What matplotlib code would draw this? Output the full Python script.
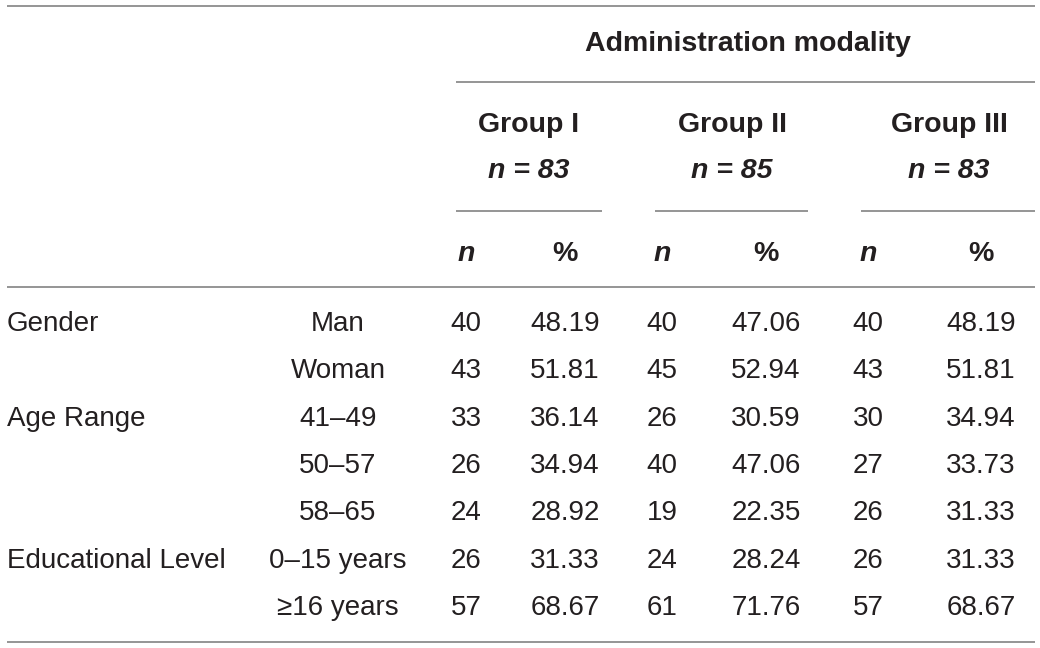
import matplotlib
matplotlib.use("Agg")
import matplotlib.pyplot as plt

categories = ["Gender", "", "Age Range", "", "", "Educational Level", ""]
subcategories = ["Man", "Woman", "41–49", "50–57", "58–65", "0–15 years", "≥16 years"]
group_names = ["Group I", "Group II", "Group III"]
group_sizes = [83, 85, 83]
g1_n = [40, 43, 33, 26, 24, 26, 57]
g1_pct = ["48.19", "51.81", "36.14", "34.94", "28.92", "31.33", "68.67"]
g2_n = [40, 45, 26, 40, 19, 24, 61]
g2_pct = ["47.06", "52.94", "30.59", "47.06", "22.35", "28.24", "71.76"]
g3_n = [40, 43, 30, 27, 26, 26, 57]
g3_pct = ["48.19", "51.81", "34.94", "33.73", "31.33", "31.33", "68.67"]

W, H = 1040, 648
fig = plt.figure(figsize=(W / 100, H / 100), dpi=100)
ax = fig.add_axes([0, 0, 1, 1])
ax.set_xlim(0, W)
ax.set_ylim(H, 0)
ax.axis("off")

FONT = ["Liberation Sans", "DejaVu Sans"]
TXT = "#231f20"
LINE = "#8c8c8c"
FS = 20
FSB = 20.5

# rules
ax.hlines([6, 287, 642], 7, 1035, color=LINE, lw=1.3)
ax.hlines(82, 456, 1035, color=LINE, lw=1.3)
for x0, x1 in [(456, 602), (655, 808), (861, 1035)]:
    ax.hlines(211, x0, x1, color=LINE, lw=1.3)

# header
ax.text(748, 44, "Administration modality", ha="center", va="center",
        fontsize=FSB, fontweight="bold", family=FONT, color=TXT)
group_x = [529, 732, 949]
col_x = [466, 565, 662, 766, 868, 981]
for gx, name, size in zip(group_x, group_names, group_sizes):
    ax.text(gx, 125, name, ha="center", va="center", fontsize=FSB,
            fontweight="bold", family=FONT, color=TXT)
    ax.text(gx, 171, f"n = {size}", ha="center", va="center", fontsize=FSB,
            fontweight="bold", style="italic", family=FONT, color=TXT)
for i, cx in enumerate(col_x):
    if i % 2 == 0:
        ax.text(cx, 254, "n", ha="center", va="center", fontsize=FSB,
                fontweight="bold", style="italic", family=FONT, color=TXT)
    else:
        ax.text(cx, 254, "%", ha="center", va="center", fontsize=FSB,
                fontweight="bold", family=FONT, color=TXT)

# body
row_y0, row_dy = 324, 47.3
cols = [g1_n, g1_pct, g2_n, g2_pct, g3_n, g3_pct]
for r in range(len(subcategories)):
    y = row_y0 + r * row_dy
    if categories[r]:
        ax.text(7, y, categories[r], ha="left", va="center", fontsize=FS,
                family=FONT, color=TXT)
    ax.text(338, y, subcategories[r], ha="center", va="center", fontsize=FS,
            family=FONT, color=TXT)
    for cx, col in zip(col_x, cols):
        ax.text(cx, y, str(col[r]), ha="center", va="center", fontsize=FS,
                family=FONT, color=TXT)

fig.savefig("out.png", dpi=100, facecolor="white")
